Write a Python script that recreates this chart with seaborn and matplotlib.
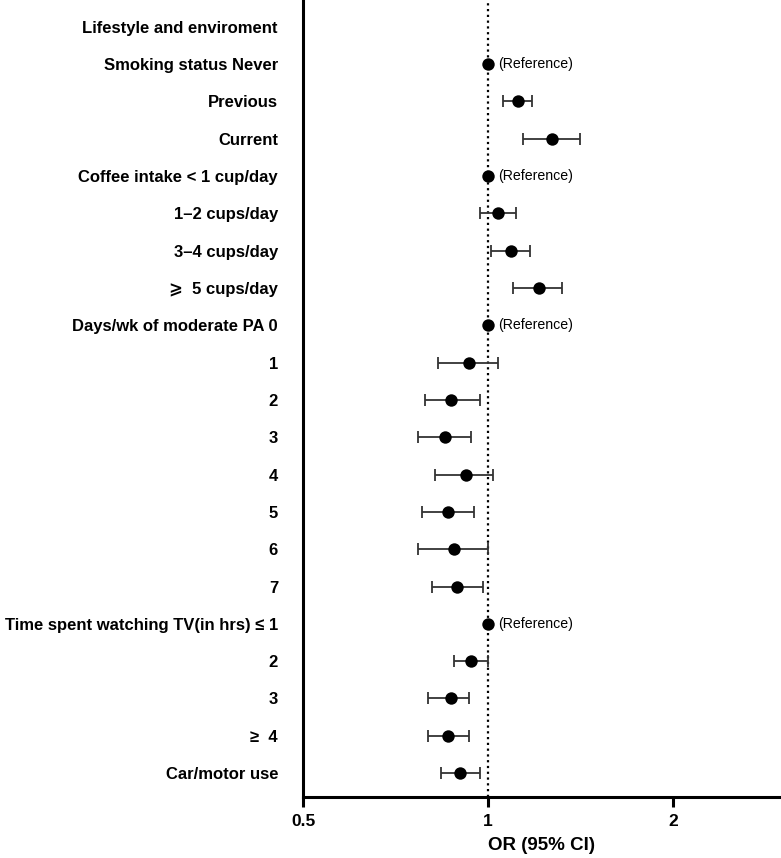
import numpy as np
import pandas as pd
import matplotlib
matplotlib.use('Agg')
import matplotlib.pyplot as plt
import seaborn as sns

# rows of the forest plot, top to bottom
labels = [
    "Lifestyle and enviroment",
    "Smoking status Never",
    "Previous",
    "Current",
    "Coffee intake < 1 cup/day",
    "1\u20132 cups/day",
    "3\u20134 cups/day",
    "\u2a7e  5 cups/day",
    "Days/wk of moderate PA 0",
    "1", "2", "3", "4", "5", "6", "7",
    "Time spent watching TV(in hrs) \u2264 1",
    "2", "3",
    "\u2265  4",
    "Car/motor use",
]
nan = np.nan
odds = [nan, 1.00, 1.12, 1.27, 1.00, 1.04, 1.09, 1.21, 1.00, 0.93, 0.87, 0.85,
        0.92, 0.86, 0.88, 0.89, 1.00, 0.94, 0.87, 0.86, 0.90]
ci_low = [nan, nan, 1.06, 1.14, nan, 0.97, 1.01, 1.10, nan, 0.83, 0.79, 0.77,
          0.82, 0.78, 0.77, 0.81, nan, 0.88, 0.80, 0.80, 0.84]
ci_high = [nan, nan, 1.18, 1.41, nan, 1.11, 1.17, 1.32, nan, 1.04, 0.97, 0.94,
           1.02, 0.95, 1.00, 0.98, nan, 1.00, 0.93, 0.93, 0.97]
x_ticks = [0.5, 1, 2]
x_ticklabels = ["0.5", "1", "2"]

df = pd.DataFrame({"label": labels, "or": odds, "lo": ci_low, "hi": ci_high})
df["row"] = np.arange(len(df))

sns.set_style("white")
plt.rcParams['font.family'] = ['Liberation Sans', 'DejaVu Sans']
plt.rcParams.update({"text.color": "black", "axes.labelcolor": "black",
                     "xtick.color": "black", "ytick.color": "black"})

fig = plt.figure(figsize=(7.81, 8.58), dpi=100)
ax = fig.add_axes([303 / 781, 61 / 858, 478 / 781, 797 / 858])

# confidence intervals
ci = df.dropna(subset=["lo"])
ax.errorbar(ci["or"], ci["row"],
            xerr=[ci["or"] - ci["lo"], ci["hi"] - ci["or"]],
            fmt="none", ecolor="#333333", elinewidth=1.3, capsize=4.2, capthick=1.3,
            zorder=2)

# point estimates
sns.scatterplot(data=df.dropna(subset=["or"]), x="or", y="row", ax=ax,
                color="black", s=80, edgecolor="black", linewidth=0, zorder=3)

# reference categories
for _, r in df[df["lo"].isna() & df["or"].notna()].iterrows():
    ax.text(r["or"] * 1.04, r["row"], "(Reference)", va="center", ha="left",
            fontsize=10.2, color="black")

ax.axvline(1, color="black", linestyle=(0, (1, 1.6)), linewidth=1.6, zorder=1)

ax.set_xscale("log", base=2)
ax.set_xlim(0.5, 3.0)
ax.set_xticks(x_ticks)
ax.set_xticklabels(x_ticklabels, fontweight="bold", fontsize=12.5)
ax.minorticks_off()
ax.set_ylim(20.64, -0.72)
ax.set_yticks(df["row"])
ax.set_yticklabels(labels, fontweight="bold", fontsize=12)
ax.tick_params(axis="y", left=False, length=0, pad=18)
ax.tick_params(axis="x", bottom=True, length=7, width=2.2, direction="out",
               pad=5, color="black")
ax.set_xlabel("OR (95% CI)", fontweight="bold", fontsize=13.5, labelpad=6)
ax.set_ylabel("")

for side in ["top", "right"]:
    ax.spines[side].set_visible(False)
for side in ["left", "bottom"]:
    ax.spines[side].set_linewidth(2.2)
    ax.spines[side].set_color("black")

fig.savefig("out.png", dpi=100)
